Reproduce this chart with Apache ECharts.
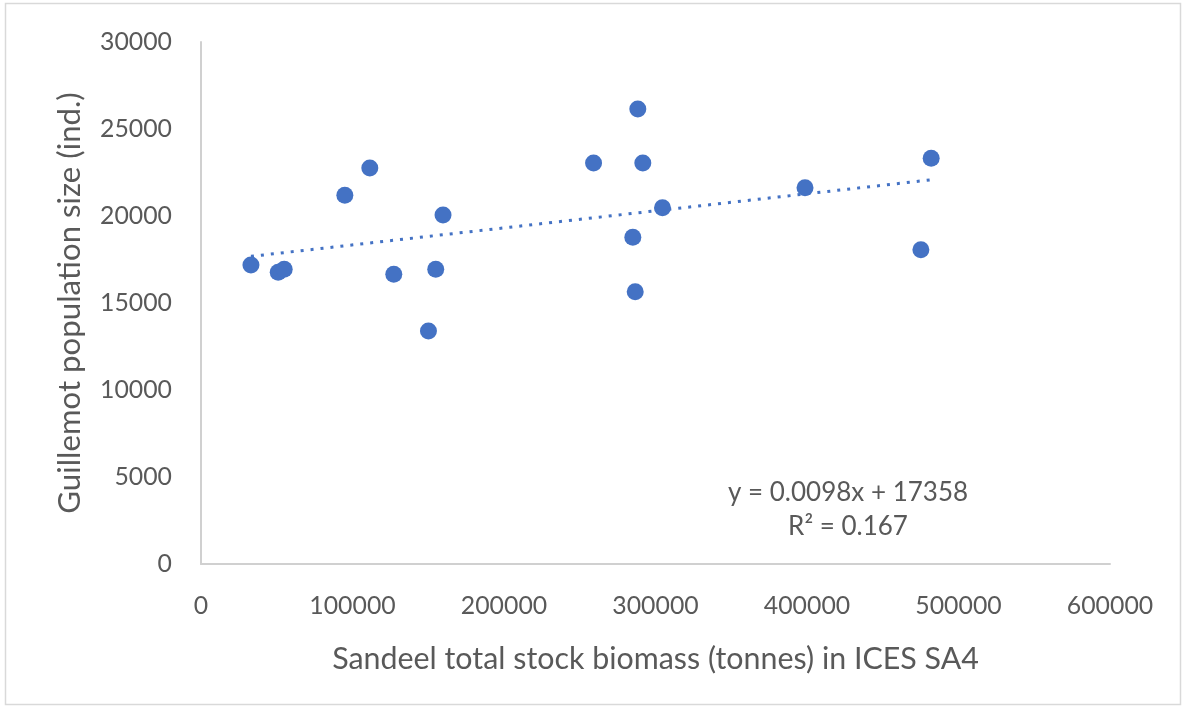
<!DOCTYPE html>
<html>
<head>
<meta charset="utf-8">
<script src="https://cdn.jsdelivr.net/npm/echarts@6/dist/echarts.min.js"></script>
<style>html,body{margin:0;padding:0;background:#fff}#c{width:1186px;height:708px}</style>
</head>
<body>
<div id="c"></div>
<script>
const biomass = [32967, 50966, 54922, 94944, 111427, 127250, 150132, 154945, 159757, 259117, 285030, 286612, 288327, 291623, 304612, 398695, 475177, 481968];
const guillemots = [17184, 16764, 16937, 21190, 22759, 16649, 13391, 16937, 20057, 23046, 18776, 15649, 26149, 23046, 20477, 21626, 18063, 23316];
const trendSlope = 0.0098;
const trendIntercept = 17358;
const equationText = ['y = 0.0098x + 17358', 'R² = 0.167'];
const xTicks = [0, 100000, 200000, 300000, 400000, 500000, 600000];
const yTicks = [0, 5000, 10000, 15000, 20000, 25000, 30000];
const xName = 'Sandeel total stock biomass (tonnes) in ICES SA4';
const yName = 'Guillemot population size (ind.)';

const points = biomass.map((x, i) => [x, guillemots[i]]);
const xmin = Math.min(...biomass), xmax = Math.max(...biomass);
const trend = [[xmin, trendSlope * xmin + trendIntercept], [xmax, trendSlope * xmax + trendIntercept]];

const font = 'Lato, "Open Sans", sans-serif';
const grey = '#595959';

// fit font sizes to the widths of the reference's texts
const ctx = document.createElement('canvas').getContext('2d');
function fit(text, target, base) {
  ctx.font = base + 'px ' + font;
  const w = ctx.measureText(text).width;
  return Math.round(base * target / w * 10) / 10;
}
const tickSize = fit('30000', 72, 24);
const xNameSize = fit(xName, 646, 26);
const yNameSize = fit(yName, 422, 26);
const eqSize = fit(equationText[0], 240, 24);

const chart = echarts.init(document.getElementById('c'), null, {renderer: 'canvas'});
chart.setOption({
  animation: false,
  backgroundColor: '#fff',
  graphic: [
    {type: 'rect', shape: {x: 5.5, y: 3.5, width: 1175, height: 701}, style: {fill: 'none', stroke: '#d9d9d9', lineWidth: 1.5}, silent: true},
    {type: 'text', x: 848, y: 493, style: {text: equationText[0], font: eqSize + 'px ' + font, fill: grey, align: 'center', verticalAlign: 'middle'}, silent: true},
    {type: 'text', x: 848, y: 527, style: {text: equationText[1], font: eqSize + 'px ' + font, fill: grey, align: 'center', verticalAlign: 'middle'}, silent: true}
  ],
  grid: {left: 201, right: 76, top: 42, bottom: 144, containLabel: false},
  xAxis: {
    type: 'value', min: xTicks[0], max: xTicks[xTicks.length - 1], interval: xTicks[1] - xTicks[0],
    name: xName, nameLocation: 'middle', nameGap: 80,
    nameTextStyle: {color: grey, fontSize: xNameSize, fontFamily: font},
    axisLine: {show: true, lineStyle: {color: '#d0d0d0', width: 2}},
    axisTick: {show: false},
    splitLine: {show: false},
    axisLabel: {color: grey, fontSize: tickSize, fontFamily: font, margin: 30, formatter: v => String(v)}
  },
  yAxis: {
    type: 'value', min: yTicks[0], max: yTicks[yTicks.length - 1], interval: yTicks[1] - yTicks[0],
    name: yName, nameLocation: 'middle', nameGap: 116, nameRotate: 90,
    nameTextStyle: {color: grey, fontSize: yNameSize, fontFamily: font},
    axisLine: {show: true, lineStyle: {color: '#d0d0d0', width: 2}},
    axisTick: {show: false},
    splitLine: {show: false},
    axisLabel: {color: grey, fontSize: tickSize, fontFamily: font, margin: 29, formatter: v => String(v)}
  },
  series: [
    {type: 'scatter', data: points, symbol: 'circle', symbolSize: 17, itemStyle: {color: '#4472C4', opacity: 1}, z: 3},
    {type: 'line', data: trend, symbol: 'none', lineStyle: {color: '#4472C4', width: 3, type: [3, 7]}, z: 2}
  ]
});
</script>
</body>
</html>
